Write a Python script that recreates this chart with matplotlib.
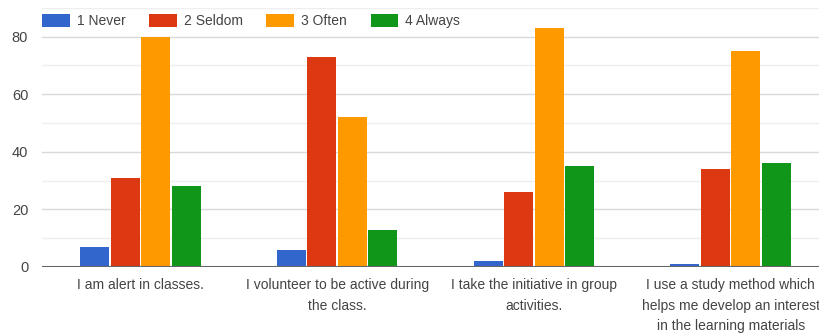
import numpy as np
import matplotlib.pyplot as plt

# survey answers per statement
categories = [
    "I am alert in classes.",
    "I volunteer to be active during\nthe class.",
    "I take the initiative in group\nactivities.",
    "I use a study method which\nhelps me develop an interest\nin the learning materials",
]
series_names = ["1 Never", "2 Seldom", "3 Often", "4 Always"]
never = [7, 6, 2, 1]
seldom = [31, 73, 26, 34]
often = [80, 52, 83, 75]
always = [28, 13, 35, 36]
colors = ["#3366cc", "#dc3912", "#ff9900", "#109618"]

plt.rcParams["font.family"] = ["Liberation Sans", "DejaVu Sans"]

fig = plt.figure(figsize=(8.19, 3.34), dpi=100)
ax = fig.add_axes([0.0513, 0.2006, 0.961, 0.776])

x = np.arange(len(categories))
bw = 0.155
for i, (name, vals) in enumerate(zip(series_names, [never, seldom, often, always])):
    ax.bar(x + (i - 1.5) * bw, vals, width=bw * 0.95, color=colors[i], label=name, zorder=3)

ax.set_xlim(-0.5, len(categories) - 0.5)
ax.set_ylim(0, 90)
ax.set_yticks([0, 20, 40, 60, 80])
ax.set_yticks([10, 30, 50, 70, 90], minor=True)
ax.grid(axis="y", which="major", color="#d9d9d9", lw=1, zorder=0)
ax.grid(axis="y", which="minor", color="#eeeeee", lw=1, zorder=0)
ax.axhline(0, color="#666666", lw=1.5, zorder=4)

ax.set_xticks(x)
ax.set_xticklabels(categories, fontsize=10, color="#444444", linespacing=1.6)
ax.tick_params(axis="both", which="both", length=0)
ax.tick_params(axis="y", labelsize=10.5, labelcolor="#444444", pad=10)
ax.tick_params(axis="x", pad=8)
for s in ax.spines.values():
    s.set_visible(False)

fig.legend(loc="upper left", bbox_to_anchor=(0.0513, 0.957), ncol=4, frameon=False,
           fontsize=10, handlelength=2.0, handleheight=1.0, columnspacing=1.7,
           handletextpad=0.5, borderpad=0, borderaxespad=0, labelcolor="#444444")

fig.savefig("out.png", dpi=100)
